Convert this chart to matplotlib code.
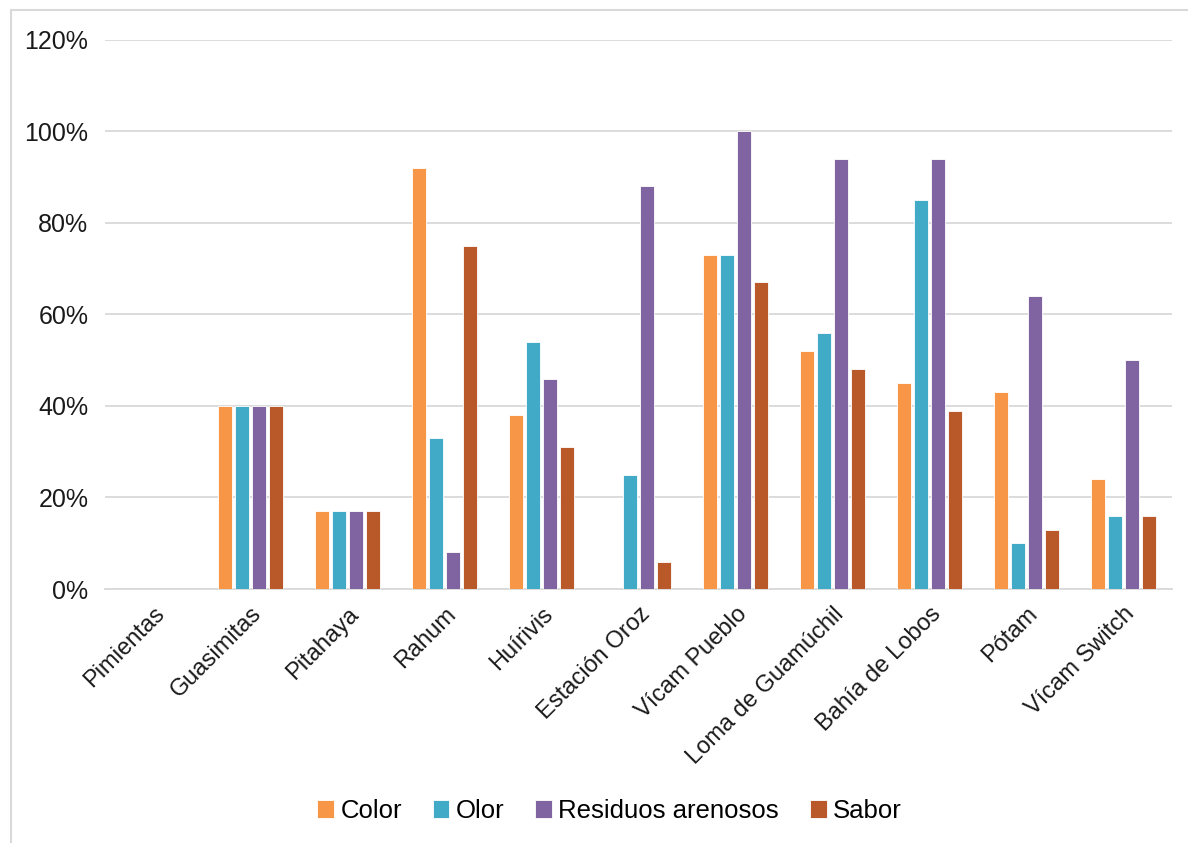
import matplotlib.pyplot as plt
import numpy as np
from matplotlib.patches import Rectangle
from matplotlib.ticker import FuncFormatter

plt.rcParams["font.family"] = ["Liberation Sans", "DejaVu Sans"]

localidades = [
    "Pimientas", "Guasimitas", "Pitahaya", "Rahum", "Huírivis",
    "Estación Oroz", "Vícam Pueblo", "Loma de Guamúchil",
    "Bahía de Lobos", "Pótam", "Vícam Switch",
]
color_vals = [0, 40, 17, 92, 38, 0, 73, 52, 45, 43, 24]
olor_vals = [0, 40, 17, 33, 54, 25, 73, 56, 85, 10, 16]
residuos_vals = [0, 40, 17, 8, 46, 88, 100, 94, 94, 64, 50]
sabor_vals = [0, 40, 17, 75, 31, 6, 67, 48, 39, 13, 16]

series = [
    ("Color", color_vals, "#F79646"),
    ("Olor", olor_vals, "#41ABC7"),
    ("Residuos arenosos", residuos_vals, "#8064A2"),
    ("Sabor", sabor_vals, "#B9592A"),
]

fig = plt.figure(figsize=(11.88, 8.43), dpi=100)
ax = fig.add_axes([0.0884, 0.3013, 0.8981, 0.6513])

# thin light frame around the whole chart
fig.patches.append(Rectangle((0.009, -0.01), 1.0, 0.998, transform=fig.transFigure,
                             fill=False, edgecolor="#D9D9D9", linewidth=1.5))

x = np.arange(len(localidades))
step = 0.175
width = 0.15
for i, (name, vals, col) in enumerate(series):
    ax.bar(x + (i - 1.5) * step, vals, width, color=col, label=name,
           edgecolor="white", linewidth=0.6, zorder=3)

ax.set_xlim(-0.5, len(localidades) - 0.5)
ax.set_ylim(0, 120)
ax.set_yticks(range(0, 121, 20))
ax.yaxis.set_major_formatter(FuncFormatter(lambda v, _: f"{v:.0f}%"))
ax.grid(axis="y", color="#D9D9D9", linewidth=1.3, zorder=0)
ax.tick_params(axis="y", length=0, pad=12, labelsize=18, labelcolor="#1A1A1A")
ax.tick_params(axis="x", length=0, pad=10, labelsize=17, labelcolor="#1A1A1A")

ax.set_xticks(x)
ax.set_xticklabels(localidades, rotation=45, ha="right", rotation_mode="anchor")

for side in ["left", "right", "top"]:
    ax.spines[side].set_visible(False)
ax.spines["bottom"].set_color("#D9D9D9")
ax.spines["bottom"].set_linewidth(1.3)

fig.legend(loc="center", bbox_to_anchor=(0.513, 0.038), ncol=4, frameon=False,
           fontsize=18.5, handlelength=0.65, handleheight=0.65, handletextpad=0.25,
           columnspacing=1.2)

fig.savefig("out.png", dpi=100)
